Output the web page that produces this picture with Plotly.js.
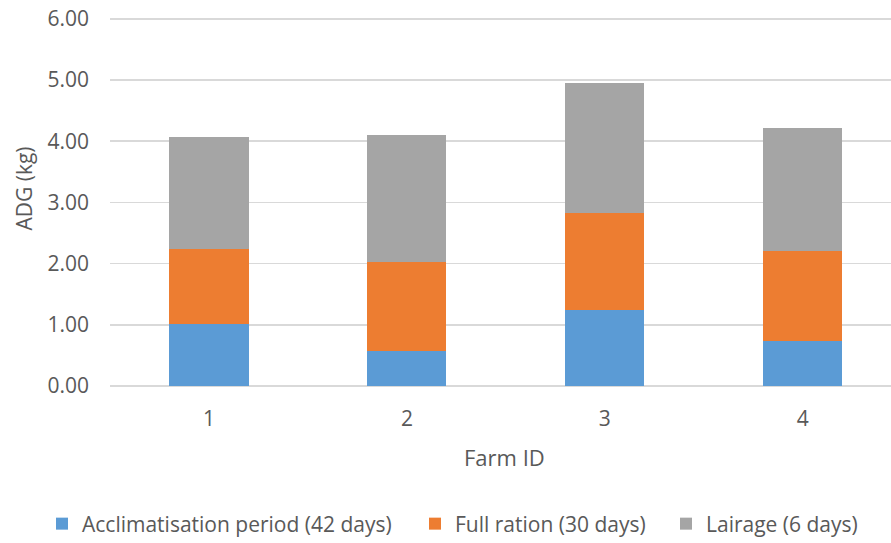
<!DOCTYPE html>
<html>
<head>
<meta charset="utf-8">
<script src="https://cdn.plot.ly/plotly-3.0.1.min.js"></script>
<style>
  html, body { margin: 0; padding: 0; background: #ffffff; }
  #chart { width: 891px; height: 543px; }
</style>
</head>
<body>
<div id="chart"></div>
<script>
// Average daily gain per farm, split by feeding phase (kg)
const farms = ['1', '2', '3', '4'];
const acclimatisation = [1.01, 0.58, 1.25, 0.73];
const fullRation = [1.23, 1.45, 1.57, 1.48];
const lairage = [1.83, 2.07, 2.13, 2.01];

const seriesNames = ['Acclimatisation period (42 days)', 'Full ration (30 days)', 'Lairage (6 days)'];
const seriesColors = ['#5B9BD5', '#ED7D31', '#A5A5A5'];
const seriesValues = [acclimatisation, fullRation, lairage];

const textColor = '#595959';
const fontFamily = '"Open Sans", "Liberation Sans", sans-serif';

// Figure and plot area geometry in pixels (used to place the legends and titles)
const figWidth = 891, figHeight = 543;
const plotLeft = 110, plotTop = 17, plotBottom = 386;
const plotWidth = figWidth - plotLeft, plotHeight = plotBottom - plotTop;
const px2x = (px) => (px - plotLeft) / plotWidth;
const px2y = (py) => (plotBottom - py) / plotHeight;

// one legend per series, laid out in a single row under the chart
const legendIds = ['legend', 'legend2', 'legend3'];
const legendLeft = [42, 415, 666];
const legendMiddle = 524;

const traces = seriesValues.map((vals, i) => ({
  type: 'bar',
  x: farms,
  y: vals,
  name: seriesNames[i],
  legend: legendIds[i],
  marker: { color: seriesColors[i], line: { width: 0 } },
  hoverinfo: 'skip'
}));

const layout = {
  width: figWidth,
  height: figHeight,
  paper_bgcolor: '#ffffff',
  plot_bgcolor: '#ffffff',
  barmode: 'stack',
  bargap: 0.6,
  margin: { l: plotLeft, r: 0, t: plotTop, b: figHeight - plotBottom, autoexpand: false },
  font: { family: fontFamily, size: 21, color: textColor },
  showlegend: true,
  xaxis: {
    type: 'category',
    range: [-0.5, 3.446],
    showgrid: false,
    showline: false,
    zeroline: false,
    ticks: '',
    ticklabelstandoff: 18,
    tickfont: { family: fontFamily, size: 21, color: textColor },
    fixedrange: true
  },
  yaxis: {
    // a little headroom above 6 so the top gridline is drawn in full
    range: [0, 6.03],
    dtick: 1,
    tick0: 0,
    tickformat: '.2f',
    showgrid: true,
    gridcolor: '#D9D9D9',
    gridwidth: 1.5,
    zeroline: true,
    zerolinecolor: '#D9D9D9',
    zerolinewidth: 1.5,
    showline: false,
    ticks: '',
    ticklabelstandoff: 20,
    tickfont: { family: fontFamily, size: 21, color: textColor },
    fixedrange: true
  },
  annotations: [
    {
      text: 'ADG (kg)',
      xref: 'paper', yref: 'paper',
      x: px2x(23), y: px2y(188.5),
      xanchor: 'center', yanchor: 'middle',
      textangle: -90,
      showarrow: false,
      font: { family: fontFamily, size: 21, color: textColor }
    },
    {
      text: 'Farm ID',
      xref: 'paper', yref: 'paper',
      x: px2x(505), y: px2y(457),
      xanchor: 'center', yanchor: 'middle',
      showarrow: false,
      font: { family: fontFamily, size: 22, color: textColor }
    }
  ]
};

legendIds.forEach((id, i) => {
  layout[id] = {
    orientation: 'h',
    xref: 'container',
    yref: 'container',
    x: legendLeft[i] / figWidth,
    xanchor: 'left',
    y: 1 - legendMiddle / figHeight,
    yanchor: 'middle',
    itemwidth: 30,
    bgcolor: 'rgba(0,0,0,0)',
    font: { family: fontFamily, size: 21, color: textColor }
  };
});

Plotly.newPlot('chart', traces, layout, { displayModeBar: false, staticPlot: true });
</script>
</body>
</html>
